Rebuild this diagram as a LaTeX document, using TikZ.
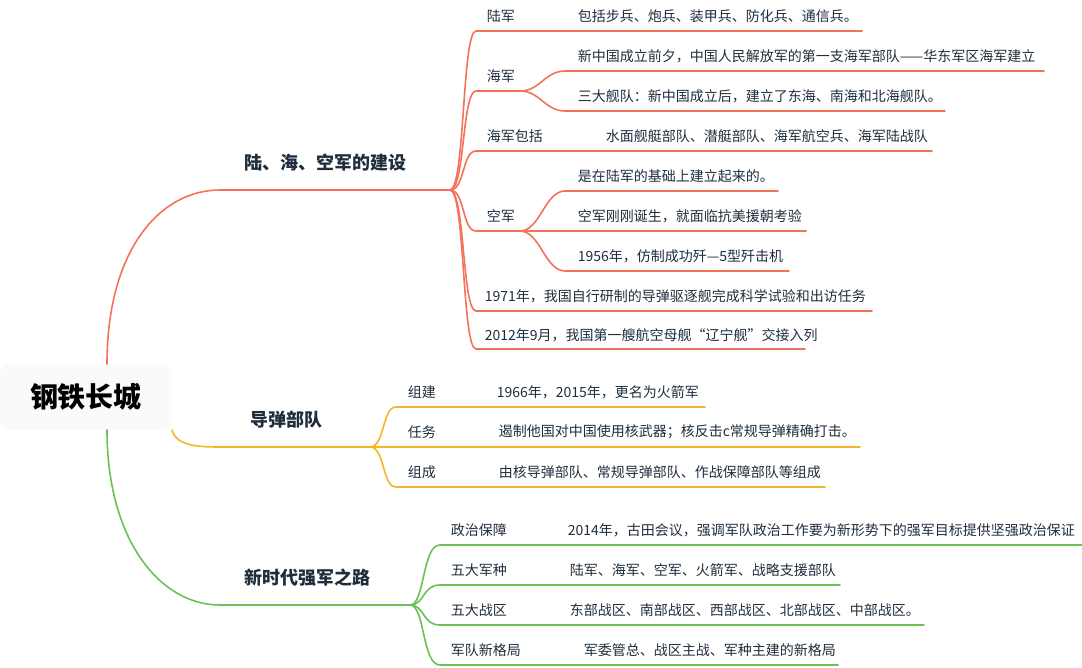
\documentclass[tikz,border=0pt]{standalone}
\usepackage{fontspec}
\setmainfont{Noto Sans CJK SC}
\usetikzlibrary{positioning}
\definecolor{redline}{HTML}{F4725C}
\definecolor{yelline}{HTML}{F5B52A}
\definecolor{grnline}{HTML}{6CC155}
\definecolor{inktext}{HTML}{1F2D3D}
\tikzset{
  leaf/.style={anchor=west,inner sep=0pt,text=inktext,font=\fontsize{14}{16}\selectfont},
  title/.style={inner sep=0pt,text=inktext,font=\fontsize{18}{20}\selectfont\bfseries},
  wire/.style={line width=1.6pt,line cap=round}
}
\begin{document}
\begin{tikzpicture}[x=1pt,y=-1pt]
    \useasboundingbox (0,0) rectangle (1082,667);
    % root
    \node[fill=gray!4,rounded corners=10pt,minimum width=172pt,minimum height=66pt,
          font=\fontsize{28}{30}\selectfont\bfseries,text=black] (root) at (86,397) {钢铁长城};

    % branch 1: land, sea, air
    \begin{scope}[redline,wire]
    \coordinate (h1) at (450,190);
    \draw (107,364) .. controls (107,250) and (160,190) .. (220,190) -- (h1);
    \node[title] (b1) at (325,163) {陆、海、空军的建设};
    % sub nodes with underline (y text, y line, x end)
    \foreach \name/\txt/\yt/\xe in {lj/陆军/16/540, hj/海军/76/520, hb/海军包括/136/566, kj/空军/216/520} {
        \node[leaf] (\name) at (486,\yt) {\txt};
        \draw (h1) .. controls (465,190) and (462,\yt+15) .. (476,\yt+15) -- (\xe,\yt+15);
    }
    % leaves
    \node[leaf] (lj1) at (577,16) {包括步兵、炮兵、装甲兵、防化兵、通信兵。};
    \draw (540,31) -- (862,31);
    \node[leaf] (hj1) at (577,56) {新中国成立前夕，中国人民解放军的第一支海军部队——华东军区海军建立};
    \node[leaf] (hj2) at (577,96) {三大舰队：新中国成立后，建立了东海、南海和北海舰队。};
    \draw (520,91) .. controls (540,91) and (545,71) .. (565,71) -- (1044,71);
    \draw (520,91) .. controls (540,91) and (545,111) .. (565,111) -- (945,111);
    \node[leaf] (hb1) at (605,136) {水面舰艇部队、潜艇部队、海军航空兵、海军陆战队};
    \draw (566,151) -- (932,151);
    \node[leaf] (kj1) at (577,176) {是在陆军的基础上建立起来的。};
    \node[leaf] (kj2) at (577,216) {空军刚刚诞生，就面临抗美援朝考验};
    \node[leaf] (kj3) at (577,256) {1956年，仿制成功歼—5型歼击机};
    \draw (520,231) .. controls (540,231) and (545,191) .. (565,191) -- (778,191);
    \draw (520,231) -- (806,231);
    \draw (520,231) .. controls (540,231) and (545,271) .. (565,271) -- (789,271);
    \node[leaf] (n71) at (484,296) {1971年，我国自行研制的导弹驱逐舰完成科学试验和出访任务};
    \draw (h1) .. controls (465,190) and (462,311) .. (476,311) -- (872,311);
    \node[leaf] (n12) at (484,335) {2012年9月，我国第一艘航空母舰“辽宁舰”交接入列};
    \draw (h1) .. controls (465,190) and (462,349) .. (476,349) -- (805,349);
    \end{scope}

    % branch 2: missile force
    \begin{scope}[yelline,wire]
    \coordinate (h2) at (370,447);
    \draw (172,430) .. controls (176,445) and (195,447) .. (220,447) -- (h2);
    \node[title] (b2) at (286,420) {导弹部队};
    \foreach \name/\txt/\yt/\lx/\lt/\xe in {zj/组建/392/496/{1966年，2015年，更名为火箭军}/705,
        rw/任务/432/498/{遏制他国对中国使用核武器；核反击c常规导弹精确打击。}/860,
        zc/组成/472/498/{由核导弹部队、常规导弹部队、作战保障部队等组成}/825} {
        \node[leaf] (\name) at (407,\yt) {\txt};
        \node[leaf] (\name1) at (\lx,\yt) {\lt};
        \draw (h2) .. controls (385,447) and (382,\yt+15) .. (396,\yt+15) -- (\xe,\yt+15);
    }
    \end{scope}

    % branch 3: new era
    \begin{scope}[grnline,wire]
    \coordinate (h3) at (410,605);
    \draw (107,430) .. controls (107,540) and (160,605) .. (220,605) -- (h3);
    \node[title] (b3) at (307,578) {新时代强军之路};
    \foreach \name/\txt/\yt/\lx/\lt/\xe in {zz/政治保障/530/567/{2014年，古田会议，强调军队政治工作要为新形势下的强军目标提供坚强政治保证}/1082,
        wd/五大军种/570/569/{陆军、海军、空军、火箭军、战略支援部队}/840,
        zq/五大战区/610/569/{东部战区、南部战区、西部战区、北部战区、中部战区。}/924,
        gj/军队新格局/650/583/{军委管总、战区主战、军种主建的新格局}/838} {
        \node[leaf] (\name) at (450,\yt) {\txt};
        \node[leaf] (\name1) at (\lx,\yt) {\lt};
        \draw (h3) .. controls (425,605) and (422,\yt+15) .. (440,\yt+15) -- (\xe,\yt+15);
    }
    \end{scope}
\end{tikzpicture}
\end{document}
